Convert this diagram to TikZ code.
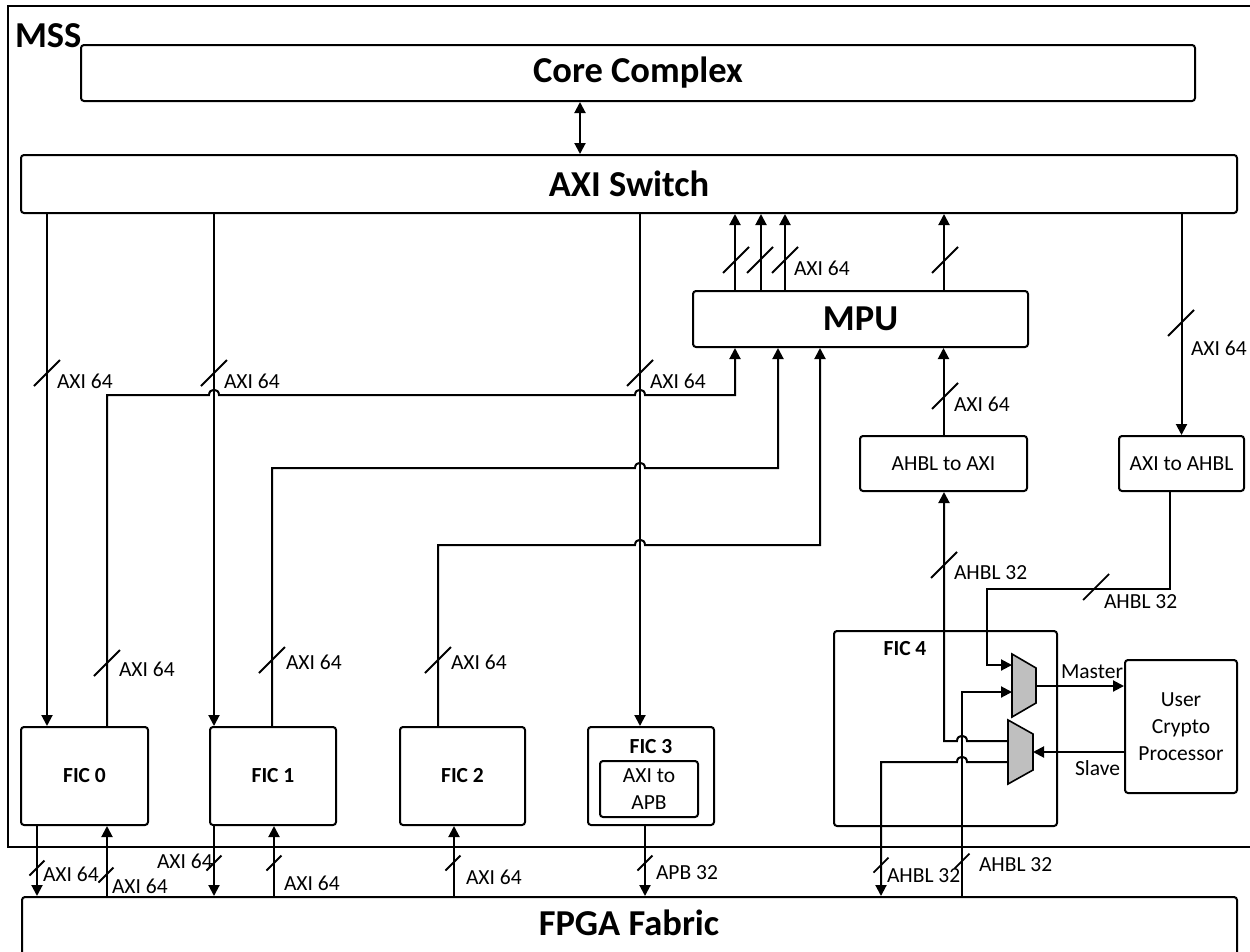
\documentclass[tikz,border=0pt]{standalone}
\usepackage{fontspec}
\setmainfont{Carlito}
\usetikzlibrary{arrows.meta}
\definecolor{muxgray}{RGB}{191,191,191}
\begin{document}
\begin{tikzpicture}[x=1pt,y=-1pt,line width=2pt,
  arr/.style={-{Triangle[length=11pt,width=11pt]}},
  darr/.style={{Triangle[length=11pt,width=11pt]}-{Triangle[length=11pt,width=11pt]}},
  box/.style={draw,rounded corners=3pt,inner sep=0pt,align=center},
  big/.style={font=\fontsize{36.5}{44}\selectfont\bfseries},
  sm/.style={font=\fontsize{21.5}{26.7}\selectfont},
  smb/.style={font=\fontsize{21.5}{26.7}\selectfont\bfseries},
  lab/.style={sm,inner sep=0pt,anchor=west},
  bigtick/.pic={\draw[line width=1.8pt] (-13,13) -- (13,-13);},
  smalltick/.pic={\draw[line width=1.8pt] (-7.5,7.5) -- (7.5,-7.5);},
  mux/.style={draw,fill=muxgray,line width=1.6pt}
]
\useasboundingbox (0,0) rectangle (1250,951);
\clip (0,0) rectangle (1250,951);
\fill[white] (0,0) rectangle (1250,951);

% MSS container
\draw (8,6) rectangle (1262,847);
\node[big,inner sep=0pt,anchor=west] (mss) at (14,35.5) {MSS};

% main blocks
\node[box,big,minimum width=1114,minimum height=56] (core) at (638,73) {Core Complex};
\node[box,big,minimum width=1216,minimum height=58] (axi) at (629,184) {AXI Switch};
\node[box,big,minimum width=335,minimum height=56] (mpu) at (860.5,319) {MPU};
\node[box,sm,minimum width=167,minimum height=55] (ahblaxi) at (943.5,463.5) {AHBL to AXI};
\node[box,sm,minimum width=125,minimum height=55] (axiahbl) at (1181.5,463.5) {AXI to AHBL};
\node[box,smb,minimum width=127,minimum height=98] (fic0) at (84.5,776) {FIC 0};
\node[box,smb,minimum width=126,minimum height=98] (fic1) at (273,776) {FIC 1};
\node[box,smb,minimum width=125,minimum height=98] (fic2) at (462.5,776) {FIC 2};
\node[box,minimum width=126,minimum height=98] (fic3) at (651,776) {};
\node[smb,inner sep=0pt] (fic3t) at (651,747) {FIC 3};
\node[box,sm,minimum width=98,minimum height=56] (apb) at (649,789) {AXI to\\APB};
\node[box,minimum width=223,minimum height=195] (fic4) at (945.5,728.5) {};
\node[smb,inner sep=0pt] (fic4t) at (905,649) {FIC 4};
\node[box,sm,minimum width=112,minimum height=133] (crypto) at (1181,726.5) {User\\Crypto\\Processor};
\node[box,minimum width=1215,minimum height=120,anchor=north] (fpga) at (629.5,896) {};
\node[big,inner sep=0pt] (fpgat) at (629,923) {FPGA Fabric};

% muxes
\draw[mux] (1012,654) -- (1036,668) -- (1036,703) -- (1012,717) -- cycle;
\draw[mux] (1008,720) -- (1033,734) -- (1033,770) -- (1008,784) -- cycle;
\coordinate (m1a) at (1012,665);
\coordinate (m1b) at (1012,692);
\coordinate (m1o) at (1036,686);
\coordinate (m2i) at (1033,752);
\coordinate (m2a) at (1008,741);
\coordinate (m2b) at (1008,762);

% x positions
\coordinate (xK) at (580,0);
\coordinate (xA) at (47,0);
\coordinate (xB) at (107,0);
\coordinate (xC) at (214,0);
\coordinate (xD) at (272,0);
\coordinate (xE) at (438,0);
\coordinate (xF) at (640,0);
\coordinate (xM1) at (735,0);
\coordinate (xM2) at (778,0);
\coordinate (xM3) at (820,0);
\coordinate (xU1) at (735,0);
\coordinate (xU2) at (761,0);
\coordinate (xU3) at (785,0);
\coordinate (xU4) at (944,0);
\coordinate (xAH) at (1170,0);
\coordinate (b1) at (37,0);
\coordinate (b2) at (107,0);
\coordinate (b3) at (214,0);
\coordinate (b4) at (274,0);
\coordinate (b5) at (454,0);
\coordinate (b6) at (645,0);
\coordinate (b7) at (881,0);
\coordinate (b8) at (962,0);

% core <-> axi switch
\draw[darr] (core.south -| xK) -- (axi.north -| xK);

% axi switch down
\draw[arr] (axi.south -| xA) -- (fic0.north -| xA);
\draw[arr] (axi.south -| xC) -- (fic1.north -| xC);
\draw[arr] (axi.south -| xF) -- (fic3.north -| xF);
\draw[arr] (axi.south -| axiahbl.north) -- (axiahbl.north);

% mpu up to axi switch
\draw[arr] (mpu.north -| xU1) -- (axi.south -| xU1);
\draw[arr] (mpu.north -| xU2) -- (axi.south -| xU2);
\draw[arr] (mpu.north -| xU3) -- (axi.south -| xU3);
\draw[arr] (mpu.north -| xU4) -- (axi.south -| xU4);

% FIC to MPU
\draw[arr] (fic0.north -| xB) -- (107,395) -- (209,395) .. controls (209,388) and (219,388) .. (219,395)
  -- (635,395) .. controls (635,388) and (645,388) .. (645,395) -- (735,395) -- (mpu.south -| xM1);
\draw[arr] (fic1.north -| xD) -- (272,468) -- (635,468) .. controls (635,461) and (645,461) .. (645,468)
  -- (778,468) -- (mpu.south -| xM2);
\draw[arr] (fic2.north -| xE) -- (438,545) -- (635,545) .. controls (635,538) and (645,538) .. (645,545)
  -- (820,545) -- (mpu.south -| xM3);
\draw[arr] (ahblaxi.north) -- (mpu.south -| ahblaxi.north);

% FIC4 paths
\draw[arr] (axiahbl.south -| xAH) -- (1170,589) -- (987,589) -- (987,665) -- (m1a);
\draw[arr] (fpga.north -| b8) -- (962,692) -- (m1b);
\draw[arr] (m2a) -- (967,741) .. controls (967,734) and (957,734) .. (957,741) -- (944,741) -- (ahblaxi.south -| xU4);
\draw[arr] (m2b) -- (967,762) .. controls (967,755) and (957,755) .. (957,762) -- (881,762) -- (fpga.north -| b7);
\draw[arr] (m1o) -- (crypto.west |- m1o);
\draw[arr] (crypto.west |- m2i) -- (m2i);

% bottom connections
\draw[arr] (fic0.south -| b1) -- (fpga.north -| b1);
\draw[arr] (fpga.north -| b2) -- (fic0.south -| b2);
\draw[arr] (fic1.south -| b3) -- (fpga.north -| b3);
\draw[arr] (fpga.north -| b4) -- (fic1.south -| b4);
\draw[arr] (fpga.north -| b5) -- (fic2.south -| b5);
\draw[arr] (fic3.south -| b6) -- (fpga.north -| b6);

% bus width ticks
\pic at (47,373) {bigtick};
\pic at (214,373) {bigtick};
\pic at (640,373) {bigtick};
\pic at (736,260) {bigtick};
\pic at (760,260) {bigtick};
\pic at (785,260) {bigtick};
\pic at (945,260) {bigtick};
\pic at (945,396) {bigtick};
\pic at (1181,323) {bigtick};
\pic at (107,663) {bigtick};
\pic at (272,660) {bigtick};
\pic at (438,660) {bigtick};
\pic at (944,565) {bigtick};
\pic at (1096,587) {bigtick};
\pic at (37,868) {smalltick};
\pic at (106,875) {smalltick};
\pic at (214,863) {smalltick};
\pic at (274,863) {smalltick};
\pic at (453,863) {smalltick};
\pic at (645,863) {smalltick};
\pic at (881,865) {smalltick};
\pic at (962,861) {smalltick};

% labels
\node[lab] (l1) at (56,381) {AXI 64};
\node[lab] (l2) at (223,381) {AXI 64};
\node[lab] (l3) at (649,381) {AXI 64};
\node[lab] (l4) at (793,268) {AXI 64};
\node[lab] (l5) at (953,404) {AXI 64};
\node[lab] (l6) at (1190,348) {AXI 64};
\node[lab] (l7) at (118,669) {AXI 64};
\node[lab] (l8) at (285,662) {AXI 64};
\node[lab] (l9) at (450,662) {AXI 64};
\node[lab] (l10) at (953,573) {AHBL 32};
\node[lab] (l11) at (1103,602) {AHBL 32};
\node[lab] (l12) at (42,874) {AXI 64};
\node[lab] (l13) at (111,886) {AXI 64};
\node[lab] (l14) at (156,861) {AXI 64};
\node[lab] (l15) at (283,883) {AXI 64};
\node[lab] (l16) at (465,877) {AXI 64};
\node[lab] (l17) at (655,873) {APB 32};
\node[lab] (l18) at (886,876) {AHBL 32};
\node[lab] (l19) at (978,865) {AHBL 32};
\node[lab] (l20) at (1060,672) {Master};
\node[lab] (l21) at (1074,768) {Slave};
\end{tikzpicture}
\end{document}
